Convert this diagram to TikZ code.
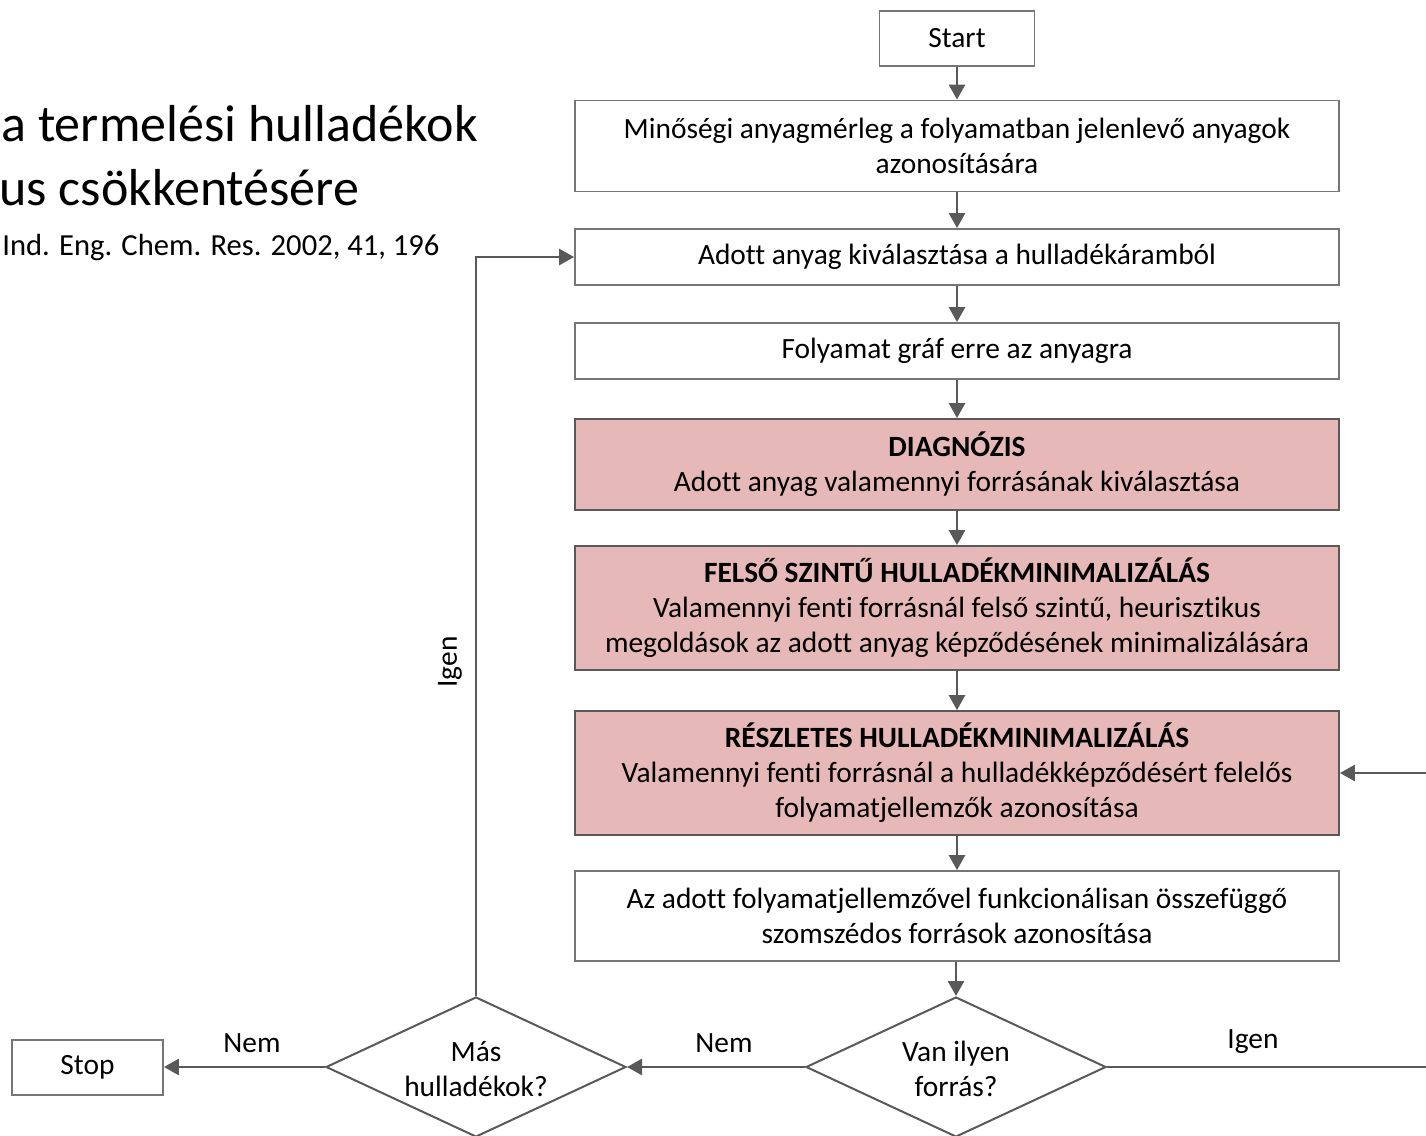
\documentclass[tikz,border=0pt]{standalone}
\usepackage{fontspec}
\setmainfont[Ligatures=NoCommon]{Carlito}
\usetikzlibrary{shapes.geometric,arrows.meta}
\definecolor{linec}{HTML}{595959}
\definecolor{boxb}{HTML}{767676}
\definecolor{pinkf}{HTML}{E6B8B7}
\begin{document}
\begin{tikzpicture}[x=0.5pt,y=-0.5pt,
  every node/.style={font=\fontsize{14.7}{17.5}\selectfont},
  wbox/.style={draw=boxb,line width=0.9pt,fill=white,align=center,minimum width=382pt,inner sep=0pt},
  pbox/.style={draw=linec,line width=0.9pt,fill=pinkf,align=center,minimum width=382pt,inner sep=0pt},
  dia/.style={diamond,draw=linec,line width=1pt,fill=white,minimum width=150pt,minimum height=70pt,inner sep=0pt},
  dtext/.style={align=center,inner sep=0pt},
  conn/.style={draw=linec,line width=1.4pt,-{Triangle[length=7.5pt,width=8pt]}},
  plain/.style={draw=linec,line width=1.4pt},
  lbl/.style={inner sep=0pt}]
\useasboundingbox (0,0) rectangle (1426,1136);
% title
\node[anchor=base west,inner sep=0pt,font=\fontsize{26}{30}\selectfont] (t1) at (1,141) {a termelési hulladékok};
\node[anchor=base west,inner sep=0pt,font=\fontsize{26}{30}\selectfont] (t2) at (-1,205) {us csökkentésére};
\node[anchor=base west,inner sep=0pt,font=\fontsize{15.3}{18}\selectfont] (t3) at (2,255) {Ind. Eng. Chem. Res. 2002, 41, 196};
% nodes
\node[wbox,minimum width=77.5pt,minimum height=27.5pt] (start) at (957,38.5) {Start};
\node[wbox,minimum height=45.5pt] (b1) at (957,146) {Minőségi anyagmérleg a folyamatban jelenlevő anyagok\\azonosítására};
\node[wbox,minimum height=28pt] (b2) at (957,257) {Adott anyag kiválasztása a hulladékáramból};
\node[wbox,minimum height=28pt] (b3) at (957,351) {Folyamat gráf erre az anyagra};
\node[pbox,minimum height=45.5pt] (b4) at (957,464.5) {\textbf{DIAGNÓZIS}\\Adott anyag valamennyi forrásának kiválasztása};
\node[pbox,minimum height=62pt] (b5) at (957,608) {\textbf{FELSŐ SZINTŰ HULLADÉKMINIMALIZÁLÁS}\\Valamennyi fenti forrásnál felső szintű, heurisztikus\\megoldások az adott anyag képződésének minimalizálására};
\node[pbox,minimum height=62pt] (b6) at (957,773) {\textbf{RÉSZLETES HULLADÉKMINIMALIZÁLÁS}\\Valamennyi fenti forrásnál a hulladékképződésért felelős\\folyamatjellemzők azonosítása};
\node[wbox,minimum height=45pt] (b7) at (957,916) {Az adott folyamatjellemzővel funkcionálisan összefüggő\\szomszédos források azonosítása};
\node[dia] (d1) at (956,1067) {};
\node[dtext] (d1t) at (956,1069) {Van ilyen\\forrás?};
\node[dia] (d2) at (476,1067) {};
\node[dtext] (d2t) at (476,1069) {Más\\hulladékok?};
\node[wbox,minimum width=75.5pt,minimum height=27.5pt] (stop) at (87.5,1067.5) {Stop};
\coordinate (r1) at (1426,1067);
\coordinate (r2) at (1426,773);
% connectors
\draw[conn] (start) -- (b1);
\draw[conn] (b1) -- (b2);
\draw[conn] (b2) -- (b3);
\draw[conn] (b3) -- (b4);
\draw[conn] (b4) -- (b5);
\draw[conn] (b5) -- (b6);
\draw[conn] (b6) -- (b7);
\draw[conn] (b7.south -| d1.north) -- (d1.north);
\draw[conn] (d1.west) -- (d2.east);
\draw[conn] (d2.west) -- (d2.west -| stop.east);
\draw[conn] (d2.north) |- (b2.west);
\draw[plain] (d1.east) -- (r1);
\draw[conn] (r2) -- (b6.east);
% labels
\node[lbl] (n1) at (724,1043) {Nem};
\node[lbl] (n2) at (252,1043) {Nem};
\node[lbl] (i1) at (1253,1042) {Igen};
\node[lbl,rotate=90] (i2) at (450,662) {Igen};
\end{tikzpicture}
\end{document}
